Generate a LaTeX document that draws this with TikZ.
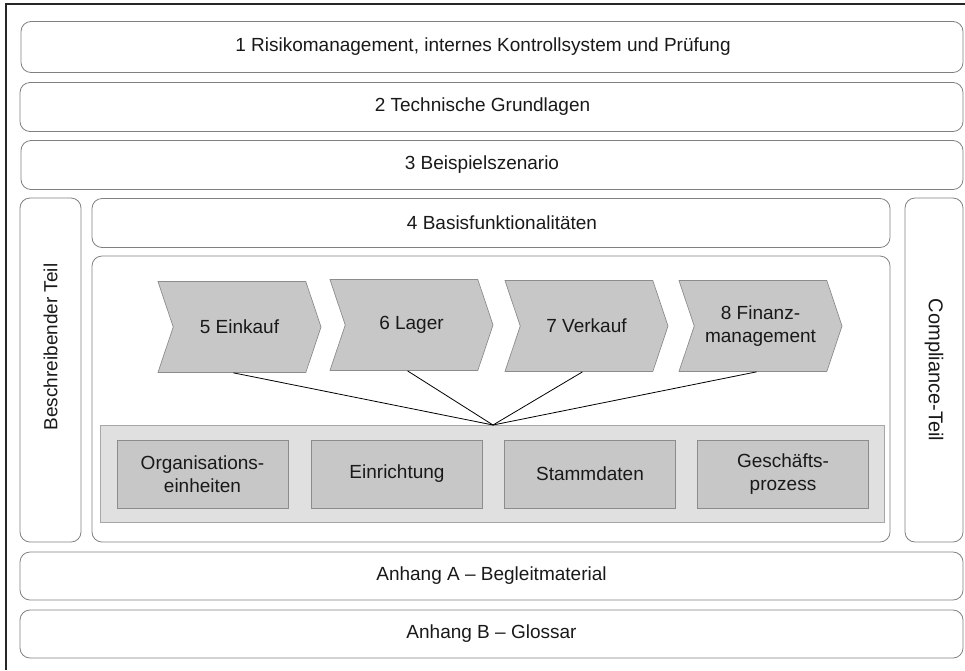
\documentclass[tikz,border=0pt]{standalone}
\usepackage{fontspec}
\setmainfont{Liberation Sans}
\usetikzlibrary{shapes.symbols}
\begin{document}
\begin{tikzpicture}[x=1pt,y=-1pt,
  txt/.style={font=\fontsize{19}{23}\selectfont, align=center, text=black!90},
  rbox/.style={draw=black!50, line width=0.8pt, rounded corners=10pt, inner sep=0pt, txt},
  chev/.style={shape=signal, signal to=east, signal from=west, signal pointer angle=143,
    minimum width=163pt, minimum height=91pt, inner sep=0pt, draw=black!45, line width=0.7pt,
    fill=black!22, txt},
  sbox/.style={draw=black!45, line width=0.7pt, fill=black!22, inner sep=0pt, txt,
    minimum width=171pt, minimum height=68pt},
  panel/.style={draw=black!35, line width=0.8pt, fill=black!12, inner sep=0pt},
  conn/.style={draw=black, line width=0.8pt}
]
\useasboundingbox (0,0) rectangle (965,670);
\draw[line width=1.6pt, black!85] (6,670) -- (6,4) -- (965,4);

\node[rbox, minimum width=942pt, minimum height=51pt] (b1) at (492,47) {\hspace*{-18pt}1 Risikomanagement, internes Kontrollsystem und Prüfung};
\node[rbox, minimum width=943pt, minimum height=49pt] (b2) at (491.5,107) {\hspace*{-18pt}2 Technische Grundlagen};
\node[rbox, minimum width=942pt, minimum height=49pt] (b3) at (492,165) {\hspace*{-20pt}3 Beispielszenario};

\node[rbox, minimum width=61pt, minimum height=344pt] (bt) at (50.5,370) {};
\node[txt, rotate=90] (btl) at ([yshift=23pt]bt.center) {Beschreibender Teil};
\node[rbox, minimum width=798pt, minimum height=49pt] (b4) at (491,223) {\hspace*{22pt}4 Basisfunktionalitäten};
\node[rbox, minimum width=798pt, minimum height=286pt] (inner) at (491,399) {};
\node[rbox, minimum width=58pt, minimum height=344pt] (ct) at (934,370) {};
\node[txt, rotate=-90, font=\fontsize{20}{24}\selectfont] (ctl) at (ct.center) {Compliance-Teil};

\node[rbox, minimum width=943pt, minimum height=48pt] (ba) at (491.5,576) {Anhang A -- Begleitmaterial};
\node[rbox, minimum width=943pt, minimum height=48pt] (bb) at (491.5,634) {Anhang B -- Glossar};

\node[chev] (c5) at (239.5,327) {5 Einkauf};
\node[chev] (c6) at (411.5,325) {6 Lager};
\node[chev] (c7) at (586.5,326) {7 Verkauf};
\node[chev] (c8) at (760.5,326) {8 Finanz-\\management};

\node[panel, minimum width=784pt, minimum height=97pt] (pan) at (492,473.5) {};
\coordinate (hub) at (493,425);

\node[sbox] (s1) at (202.5,474) {Organisations-\\einheiten};
\node[sbox] (s2) at (397,474) {Einrichtung};
\node[sbox] (s3) at (590,474) {Stammdaten};
\node[sbox] (s4) at (783,474) {Geschäfts-\\prozess};

\draw[conn] ([xshift=-6pt]c5.south) -- (hub);
\draw[conn] ([xshift=-4pt]c6.south) -- (hub);
\draw[conn] ([xshift=-4pt]c7.south) -- (hub);
\draw[conn] ([xshift=-4pt]c8.south) -- (hub);
\end{tikzpicture}
\end{document}
